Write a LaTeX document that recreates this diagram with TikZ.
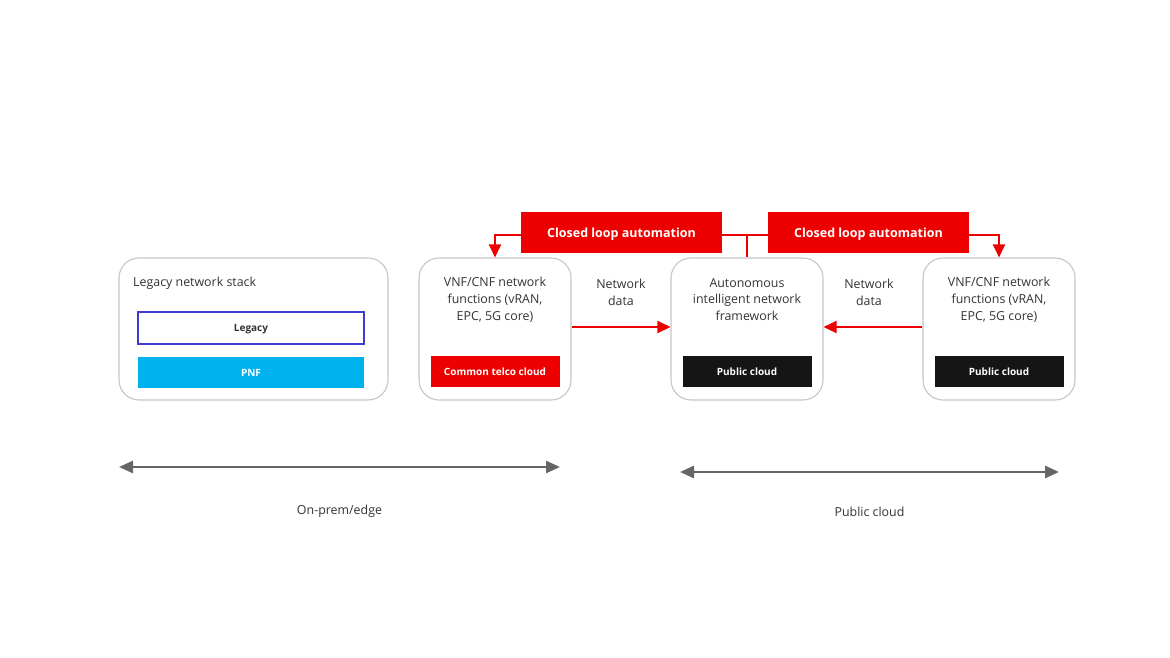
\documentclass[tikz,border=0pt]{standalone}
\usepackage{fontspec}
\setmainfont{Open Sans}
\usetikzlibrary{arrows.meta,positioning}
\definecolor{rhred}{HTML}{EE0000}
\definecolor{rhblue}{HTML}{3C3CD2}
\definecolor{rhcyan}{HTML}{00B2EE}
\definecolor{rhblack}{HTML}{151515}
\definecolor{rhgray}{HTML}{666666}
\definecolor{rhtext}{HTML}{333333}
\definecolor{rhframe}{HTML}{C6C6C6}

\begin{document}
\begin{tikzpicture}[x=1pt,y=-1pt,
    font=\fontsize{12.4}{16.8}\selectfont,
    frame/.style={draw=rhframe,line width=1.1pt,rounded corners=20pt,
      minimum width=152pt,minimum height=142pt},
    caption/.style={text=rhtext,align=center},
    tag/.style={minimum width=129pt,minimum height=31pt,inner sep=0pt,
      text depth=0pt,text=white,font=\fontsize{10}{12}\selectfont\bfseries},
    clabox/.style={fill=rhred,minimum width=201pt,minimum height=41pt,
      inner sep=0pt,text depth=0pt,text=white,font=\fontsize{12.5}{15}\selectfont\bfseries},
    redline/.style={draw=rhred,line width=2.2pt},
    redarrow/.style={redline,-{Triangle[length=13pt,width=12pt]}},
    span/.style={draw=rhgray,line width=2.6pt,
      {Triangle[length=14pt,width=12pt]}-{Triangle[length=14pt,width=12pt]}}]
  \useasboundingbox (0,0) rectangle (1170,658);

  % boxes
  \node[frame,minimum width=269pt] (legacy) at (253.5,329) {};
  \node[frame] (vnfa) at (495,329) {};
  \node[frame] (aif) at (747,329) {};
  \node[frame] (vnfb) at (999,329) {};

  % legacy stack
  \node[caption,anchor=west,inner sep=0pt] (legtitle) at (133,283.5) {Legacy network stack};
  \node[draw=rhblue,line width=1.6pt,fill=white,minimum width=226pt,minimum height=32pt,
    inner sep=0pt,text depth=0pt,font=\fontsize{10}{12}\selectfont\bfseries,text=rhtext] (legbox) at (251,328) {Legacy};
  \node[tag,fill=rhcyan,minimum width=226pt] (pnf) [below=12pt of legbox] {PNF};

  % texts and tags
  \node[caption] (vnfatext) at (495,299.5) {VNF/CNF network\\functions (vRAN,\\EPC, 5G core)};
  \node[caption] (aiftext) at (747,299.5) {Autonomous\\intelligent network\\framework};
  \node[caption] (vnfbtext) at (999,299.5) {VNF/CNF network\\functions (vRAN,\\EPC, 5G core)};
  \node[tag,fill=rhred] (telco) at (495,371.5) {Common telco cloud};
  \node[tag,fill=rhblack] (pubmid) at (747,371.5) {Public cloud};
  \node[tag,fill=rhblack] (pubright) at (999,371.5) {Public cloud};

  % closed loop
  \node[clabox] (claa) at (621.5,232.5) {Closed loop automation};
  \node[clabox] (clab) at (868.5,232.5) {Closed loop automation};
  \draw[redarrow] ([yshift=-2.5pt]claa.west) -| (vnfa.north);
  \draw[redarrow] ([yshift=-2.5pt]clab.east) -| (vnfb.north);
  \draw[redline] ([yshift=-2.5pt]claa.east) -- ([yshift=-2.5pt]clab.west);
  \draw[redline] (aif.north) -- ([yshift=-2.5pt]aif.north |- claa.east);

  % network data
  \draw[redarrow] ([yshift=2pt]vnfa.east) -- ([yshift=2pt]aif.west);
  \draw[redarrow] ([yshift=2pt]vnfb.west) -- ([yshift=2pt]aif.east);
  \node[caption] (dataa) at (621,292) {Network\\data};
  \node[caption] (datab) at (869,292) {Network\\data};

  % spans
  \coordinate (onpremL) at (119,467);
  \coordinate (onpremR) at (560,467);
  \coordinate (publicL) at (680,472);
  \coordinate (publicR) at (1059,472);
  \draw[span] (onpremL) -- (onpremR);
  \draw[span] (publicL) -- (publicR);
  \node[caption] (onprem) at (339.5,511.5) {On-prem/edge};
  \node[caption] (public) at (869.5,511.5) {Public cloud};
\end{tikzpicture}
\end{document}
